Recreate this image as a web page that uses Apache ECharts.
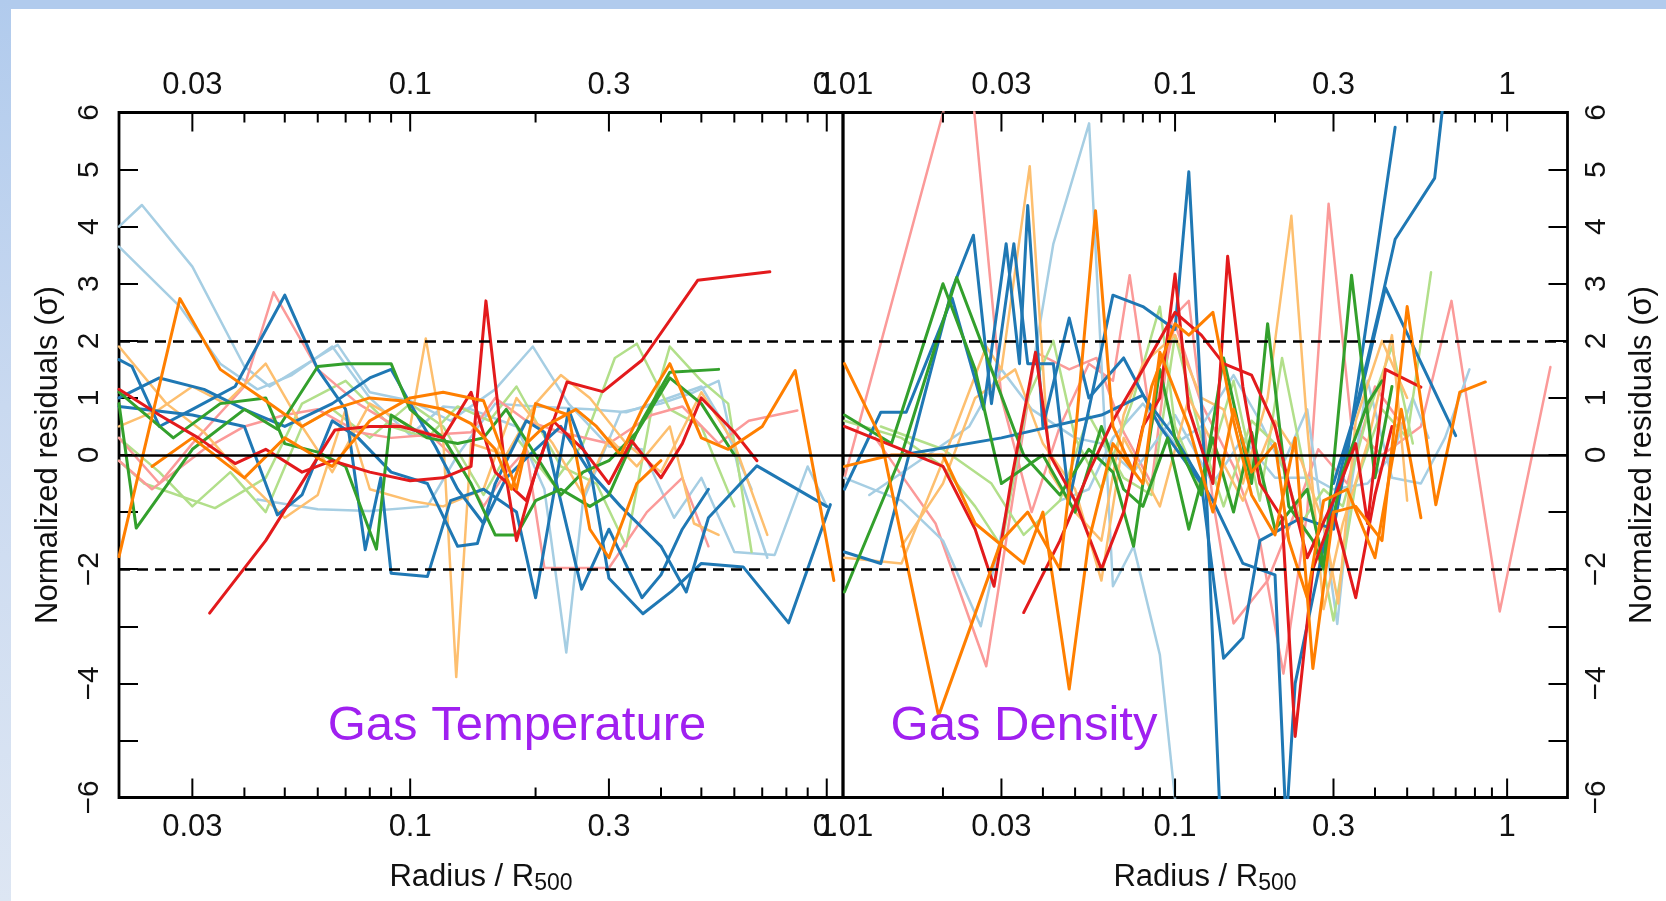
<!DOCTYPE html>
<html>
<head>
<meta charset="utf-8">
<title>Normalized residuals</title>
<script src="https://cdn.jsdelivr.net/npm/echarts@6/dist/echarts.min.js"></script>
<style>
  html, body { margin: 0; padding: 0; background: #ffffff; }
  #page { position: relative; width: 1666px; height: 901px; overflow: hidden; background: #ffffff; }
  #bandTop { position: absolute; left: 0; top: 0; width: 1666px; height: 9px; background: #b1cbed; }
  #bandLeft { position: absolute; left: 0; top: 0; width: 11px; height: 901px;
              background: linear-gradient(to bottom, #b1cbed 0%, #c9d9f0 45%, #dde6f3 100%); }
  #chart { position: absolute; left: 0; top: 0; width: 1666px; height: 901px; }
</style>
</head>
<body>
<div id="page">
  <div id="bandTop"></div>
  <div id="bandLeft"></div>
  <div id="chart"></div>
</div>
<script>
// Paired palette used for the cluster profiles
const palette = ['#a6cee3', '#1f78b4', '#b2df8a', '#33a02c', '#fb9a99', '#e31a1c', '#fdbf6f', '#ff7f00'];
const darkColours = ['#1f78b4', '#33a02c', '#e31a1c', '#ff7f00'];

// ---- Gas temperature residuals: [radius / R500, residual in sigma] ----
const tempLB1 = [[0.02,4.0],[0.0227,4.38],[0.03,3.3],[0.04,1.55],[0.046,1.2],[0.067,1.93],[0.08,1.1],[0.1,0.95],[0.125,0.6],[0.16,1.15],[0.197,1.9],[0.24,0.9],[0.3,0.15],[0.36,0.1],[0.43,-1.1],[0.5,-0.4],[0.6,-1.7],[0.75,-1.75],[0.9,-0.2],[1.0,-0.9]];
const tempLB2 = [[0.02,3.65],[0.028,2.6],[0.035,1.6],[0.043,1.15],[0.052,1.4],[0.065,1.9],[0.08,1.0],[0.1,0.35],[0.12,0.85],[0.14,0.8],[0.18,0.5],[0.21,-0.6],[0.237,-3.46],[0.26,-0.8],[0.32,0.75],[0.4,0.9],[0.48,1.1],[0.55,1.3],[0.62,-0.4],[0.72,-1.8]];
const tempLB3 = [[0.043,-0.78],[0.06,-0.95],[0.08,-0.98],[0.11,-0.9],[0.13,0.0],[0.16,0.9],[0.2,0.85],[0.27,0.8],[0.33,0.75],[0.4,0.95],[0.5,1.2],[0.56,0.6],[0.66,-0.6]];
const tempDB1 = [[0.02,1.67],[0.0215,1.55],[0.025,0.5],[0.03,0.8],[0.038,1.2],[0.05,2.8],[0.06,1.5],[0.07,0.8],[0.078,-1.66],[0.085,-0.4],[0.09,-2.07],[0.11,-2.13],[0.125,-0.8],[0.15,-0.6],[0.18,-1.0],[0.2,-2.5],[0.24,0.8],[0.27,-0.2],[0.3,-2.16],[0.362,-2.78],[0.424,-2.39],[0.5,-1.9],[0.63,-1.96],[0.81,-2.94],[1.02,-0.87]];
const tempDB2 = [[0.02,1.0],[0.025,1.35],[0.032,1.15],[0.04,0.8],[0.05,0.5],[0.065,0.9],[0.08,1.35],[0.09,1.5],[0.1,0.9],[0.115,0.15],[0.13,-0.6],[0.15,-1.2],[0.17,-0.4],[0.2,0.1],[0.23,0.5],[0.27,-0.3],[0.32,-0.9],[0.4,-1.6],[0.46,-2.4],[0.52,-1.1],[0.68,-0.19],[1.0,-0.9]];
const tempDB3 = [[0.02,0.85],[0.03,0.7],[0.04,0.5],[0.048,-1.05],[0.055,-0.7],[0.065,0.6],[0.075,0.3],[0.09,-0.3],[0.11,-0.5],[0.13,-1.6],[0.145,-1.55],[0.16,-0.5],[0.19,0.6],[0.21,0.4],[0.258,-2.35],[0.3,-1.3],[0.36,-2.5],[0.4,-2.1],[0.45,-1.3],[0.52,-0.6]];
const tempLG1 = [[0.02,0.3],[0.025,-0.3],[0.03,-0.9],[0.037,-0.3],[0.045,-1.0],[0.055,0.5],[0.065,0.8],[0.08,0.3],[0.1,0.9],[0.12,0.5],[0.15,-0.7],[0.18,0.3],[0.22,-0.5],[0.26,0.2],[0.31,1.7],[0.35,1.95],[0.42,0.8],[0.5,0.5],[0.6,-0.9]];
const tempLG2 = [[0.02,-0.1],[0.023,-0.5],[0.034,-0.93],[0.045,-0.4],[0.055,0.9],[0.07,1.3],[0.09,0.5],[0.11,0.3],[0.13,0.85],[0.155,0.6],[0.18,1.2],[0.2,0.6],[0.23,-0.2],[0.28,-0.5],[0.33,-1.6],[0.38,0.8],[0.42,1.9],[0.5,1.3],[0.58,0.9],[0.66,-1.7]];
const tempDG1 = [[0.02,0.9],[0.022,-1.28],[0.03,0.1],[0.04,0.8],[0.048,0.45],[0.06,1.55],[0.07,1.6],[0.09,1.6],[0.1,0.8],[0.12,0.3],[0.14,-0.5],[0.16,-1.4],[0.18,-1.4],[0.2,-0.8],[0.23,-0.6],[0.27,-0.9],[0.3,-0.7],[0.36,0.6],[0.42,1.45],[0.55,1.5]];
const tempDG2 = [[0.02,1.1],[0.027,0.3],[0.035,0.9],[0.045,1.0],[0.05,0.2],[0.06,0.05],[0.07,-0.2],[0.083,-1.65],[0.09,0.7],[0.11,0.3],[0.13,0.2],[0.15,0.3],[0.17,0.8],[0.2,0.0],[0.23,-0.7],[0.26,-0.3],[0.3,-0.1],[0.35,0.4],[0.42,1.35],[0.5,0.9],[0.6,0.0]];
const tempPK1 = [[0.02,0.3],[0.025,-0.5],[0.03,0.2],[0.04,1.2],[0.047,2.85],[0.06,1.5],[0.075,0.9],[0.09,0.55],[0.11,0.4],[0.13,-0.1],[0.15,-0.9],[0.17,-0.3],[0.19,0.1],[0.21,-1.98],[0.3,-1.98],[0.37,-1.0],[0.45,-0.4],[0.52,-1.6]];
const tempPK2 = [[0.02,-0.1],[0.024,-0.6],[0.032,0.1],[0.04,0.5],[0.05,0.7],[0.06,0.8],[0.075,0.4],[0.09,0.3],[0.11,0.35],[0.14,0.4],[0.16,1.0],[0.19,0.6],[0.23,0.4],[0.3,0.2],[0.38,0.7],[0.45,0.85],[0.55,0.2],[0.65,0.6],[0.85,0.78]];
const tempRD1 = [[0.02,1.15],[0.025,0.7],[0.031,0.3],[0.038,-0.15],[0.045,0.1],[0.055,-0.3],[0.065,-0.1],[0.08,-0.3],[0.1,-0.45],[0.12,-0.4],[0.14,-0.2],[0.152,2.7],[0.17,-0.4],[0.18,-1.5],[0.2,-0.3],[0.238,1.28],[0.29,1.11],[0.36,1.66],[0.49,3.06],[0.73,3.21]];
const tempRD2 = [[0.033,-2.77],[0.045,-1.5],[0.066,0.44],[0.08,0.5],[0.095,0.5],[0.12,0.3],[0.14,1.1],[0.16,-0.3],[0.19,-0.8],[0.22,0.6],[0.26,0.1],[0.3,-0.5],[0.34,0.25],[0.4,-0.4],[0.45,0.2],[0.5,1.0],[0.6,0.4],[0.68,-0.1]];
const tempLO1 = [[0.02,0.5],[0.025,0.8],[0.03,1.2],[0.036,0.9],[0.045,1.6],[0.055,0.5],[0.065,-0.3],[0.08,0.9],[0.1,0.5],[0.109,2.04],[0.12,0.3],[0.129,-3.89],[0.14,0.2],[0.17,0.0],[0.2,0.9],[0.23,1.4],[0.27,1.0],[0.33,0.2],[0.4,-0.3],[0.5,1.1],[0.6,0.2],[0.72,-1.4]];
const tempLO2 = [[0.02,1.9],[0.026,0.9],[0.032,0.4],[0.04,-0.4],[0.05,-1.1],[0.06,-0.7],[0.07,0.8],[0.08,-0.6],[0.1,-0.8],[0.12,-0.9],[0.15,-0.6],[0.18,1.0],[0.22,0.2],[0.26,-0.7],[0.3,0.3],[0.35,-0.2],[0.42,0.5],[0.48,-1.2],[0.55,-1.4]];
const tempOR1 = [[0.02,-1.78],[0.028,2.74],[0.035,1.5],[0.045,0.95],[0.055,0.5],[0.065,0.8],[0.08,1.0],[0.095,0.95],[0.12,0.8],[0.14,0.55],[0.16,0.1],[0.175,-0.6],[0.19,0.2],[0.21,0.5],[0.25,0.8],[0.28,0.5],[0.32,0.0],[0.36,0.8],[0.42,1.6],[0.5,0.3],[0.58,0.1],[0.7,0.5],[0.84,1.48],[1.04,-2.2]];
const tempOR2 = [[0.024,-0.2],[0.03,0.3],[0.04,-0.4],[0.05,0.3],[0.065,-0.2],[0.08,0.6],[0.1,1.0],[0.12,1.1],[0.15,0.95],[0.18,-0.6],[0.2,0.9],[0.24,0.7],[0.27,-1.3],[0.3,-1.8],[0.35,-0.5],[0.4,-0.1]];

// ---- Gas density residuals ----
const densPK1 = [[0.0101,-0.4],[0.0235,7.5],[0.03,1.0],[0.037,-1.0],[0.045,0.5],[0.055,1.6],[0.065,1.3],[0.073,3.15],[0.085,0.5],[0.1,2.3],[0.12,0.9],[0.15,-0.2],[0.18,-1.5],[0.212,-3.83],[0.25,-1.0],[0.29,4.4],[0.34,0.5],[0.42,0.0],[0.55,0.5],[0.68,2.7],[0.95,-2.74],[1.35,1.54]];
const densPK2 = [[0.0125,0.3],[0.019,-1.2],[0.027,-3.7],[0.033,-0.5],[0.038,1.8],[0.048,1.5],[0.058,1.7],[0.07,0.4],[0.085,-0.5],[0.098,2.4],[0.11,2.7],[0.13,-0.8],[0.15,-2.95],[0.19,-2.2],[0.23,-1.0],[0.27,0.1],[0.33,-0.5],[0.4,1.2],[0.5,0.4]];
const densLB1 = [[0.0101,-0.4],[0.015,-0.8],[0.02,-1.5],[0.026,-3.0],[0.033,-0.3],[0.043,3.7],[0.0551,5.81],[0.065,-2.3],[0.075,-1.6],[0.09,-3.5],[0.102,-6.5]];
const densLB2 = [[0.045,-0.8],[0.055,-0.6],[0.065,0.3],[0.08,0.9],[0.1,0.2],[0.12,0.5],[0.15,1.4],[0.18,0.6],[0.21,-0.2],[0.25,0.8],[0.308,-2.96],[0.34,-0.5],[0.38,1.3],[0.45,-0.4],[0.55,-0.5],[0.65,0.3],[0.77,1.5]];
const densLB3 = [[0.012,-0.7],[0.017,-0.1],[0.024,0.5],[0.03,1.5],[0.037,0.8],[0.05,0.3],[0.06,0.2],[0.075,-0.3],[0.1,0.7],[0.13,-0.5],[0.16,0.3],[0.2,-0.4],[0.26,-0.4],[0.3,-0.6],[0.38,-0.5],[0.45,0.0],[0.52,1.0],[0.58,0.3]];
const densDB1 = [[0.0101,-1.7],[0.013,-1.9],[0.015,-0.5],[0.0213,2.9],[0.0247,3.85],[0.028,0.9],[0.0327,3.7],[0.036,1.6],[0.043,1.6],[0.048,-0.8],[0.055,0.8],[0.065,2.8],[0.08,2.6],[0.1,2.2],[0.11,4.96],[0.125,-1.0],[0.137,-6.5]];
const densDB2 = [[0.0101,-0.6],[0.013,0.75],[0.0155,0.75],[0.0213,2.75],[0.0265,0.8],[0.031,3.7],[0.034,1.6],[0.036,4.37],[0.04,0.5],[0.048,2.4],[0.055,1.0],[0.07,1.7],[0.09,0.5],[0.12,-0.5],[0.14,-3.56],[0.16,-3.2],[0.18,-1.5],[0.24,-1.1],[0.3,-1.3],[0.33,0.0],[0.46,5.74]];
const densDB3 = [[0.015,0.0],[0.03,0.3],[0.06,0.7],[0.08,1.05],[0.1,0.3],[0.13,-0.8],[0.16,-1.9],[0.2,-2.1],[0.216,-6.5]];
const densDB4 = [[0.216,-6.5],[0.23,-4.0],[0.26,-2.5],[0.3,-0.8],[0.35,0.8],[0.42,2.75],[0.46,3.78],[0.605,4.85],[0.66,6.8]];
const densDB5 = [[0.3,-0.5],[0.36,1.0],[0.43,2.93],[0.70,0.34]];
const densLG1 = [[0.0101,0.6],[0.015,0.3],[0.02,-0.2],[0.025,-0.9],[0.03,-1.6],[0.036,1.0],[0.043,2.0],[0.05,0.3],[0.06,-0.6],[0.075,1.0],[0.09,2.6],[0.1,0.5],[0.12,-0.6],[0.15,1.3],[0.18,-0.8],[0.21,1.7],[0.25,-0.5],[0.3,-2.9],[0.35,-0.5],[0.42,0.8],[0.5,0.3],[0.59,3.2]];
const densLG2 = [[0.013,0.5],[0.02,0.1],[0.028,-0.5],[0.035,-1.4],[0.045,-0.8],[0.055,0.7],[0.07,-0.4],[0.085,-0.7],[0.1,2.1],[0.12,0.3],[0.14,-0.9],[0.17,0.6],[0.2,0.2],[0.24,-1.2],[0.28,-0.6],[0.32,-0.9],[0.38,0.7],[0.45,1.9],[0.52,0.2]];
const densDG1 = [[0.0101,-2.4],[0.015,0.0],[0.022,3.11],[0.028,1.5],[0.035,0.0],[0.045,-0.7],[0.055,0.1],[0.065,-0.3],[0.075,-1.6],[0.09,1.5],[0.1,0.3],[0.12,-0.7],[0.14,1.7],[0.17,-0.5],[0.19,2.3],[0.22,-0.9],[0.26,-1.5],[0.28,-2.0],[0.34,3.15],[0.4,-0.4],[0.45,1.2]];
const densDG2 = [[0.0101,0.7],[0.014,0.2],[0.02,3.0],[0.025,1.5],[0.03,-0.5],[0.04,0.0],[0.05,-1.0],[0.06,0.5],[0.07,-0.6],[0.08,-0.9],[0.095,0.3],[0.11,-1.3],[0.13,0.3],[0.15,-1.0],[0.17,0.4],[0.2,-1.3],[0.25,-0.6],[0.28,-1.9],[0.32,-0.3],[0.38,0.9],[0.42,1.3]];
const densRD1 = [[0.0101,0.5],[0.015,0.1],[0.02,-0.2],[0.025,-1.3],[0.0285,-2.3],[0.032,-0.5],[0.038,1.8],[0.042,0.0],[0.05,-0.8],[0.06,-2.0],[0.07,-1.0],[0.08,0.5],[0.09,1.0],[0.1,3.17],[0.11,0.8],[0.13,-0.5],[0.144,3.48],[0.16,1.2],[0.18,-0.5],[0.21,-1.1],[0.23,-4.93],[0.26,-2.0],[0.3,-1.0],[0.35,-2.5],[0.4,-0.7],[0.45,0.5]];
const densRD2 = [[0.035,-2.76],[0.045,-1.5],[0.055,-0.3],[0.065,0.6],[0.08,1.5],[0.1,2.5],[0.12,2.1],[0.14,1.6],[0.17,1.4],[0.2,0.5],[0.22,-0.5],[0.25,-1.8],[0.3,-0.8],[0.35,0.2],[0.38,-1.2],[0.43,1.5],[0.55,1.19]];
const densLO1 = [[0.0101,-1.8],[0.015,-1.9],[0.02,-0.1],[0.027,1.9],[0.03,1.5],[0.0365,5.06],[0.042,-0.3],[0.05,-1.0],[0.06,-1.5],[0.07,0.7],[0.08,1.6],[0.1,2.1],[0.12,1.0],[0.14,0.8],[0.16,-0.5],[0.19,1.0],[0.224,4.19],[0.25,0.5],[0.28,-2.7],[0.32,-1.2],[0.38,0.2],[0.45,2.1],[0.5,-0.8]];
const densLO2 = [[0.015,-1.6],[0.02,-0.5],[0.025,1.0],[0.033,1.5],[0.04,0.2],[0.05,-0.6],[0.06,-2.2],[0.07,0.3],[0.09,-0.9],[0.11,1.0],[0.13,0.2],[0.16,-0.8],[0.2,0.6],[0.24,-0.1],[0.28,-1.2],[0.31,-2.6],[0.35,0.6],[0.42,2.0],[0.5,1.0]];
const densOR1 = [[0.0101,1.6],[0.013,0.3],[0.0194,-4.57],[0.03,-1.5],[0.036,-1.0],[0.045,-2.0],[0.05,0.3],[0.0576,4.28],[0.065,0.5],[0.075,-0.3],[0.085,1.2],[0.1,2.3],[0.11,2.1],[0.13,2.5],[0.15,0.6],[0.17,-0.7],[0.2,-1.4],[0.23,0.3],[0.26,-3.74],[0.3,-1.0],[0.35,-0.9],[0.42,-1.5],[0.5,2.6],[0.61,-0.87],[0.72,1.1],[0.86,1.28]];
const densOR2 = [[0.0101,-0.2],[0.014,0.0],[0.02,0.0],[0.025,-1.2],[0.035,-1.9],[0.04,-1.0],[0.048,-4.1],[0.055,-1.5],[0.065,0.2],[0.08,-0.5],[0.09,1.8],[0.11,0.5],[0.13,-1.0],[0.15,0.8],[0.17,-0.3],[0.2,0.2],[0.22,-1.5],[0.25,-2.5],[0.28,-0.8],[0.33,-0.6],[0.4,-1.8],[0.48,0.8],[0.55,-1.1]];

// colour index into the palette for each profile
const tempProfiles = [
  [tempLB1, 0], [tempLB2, 0], [tempLB3, 0], [tempLG1, 2], [tempLG2, 2], [tempPK1, 4], [tempPK2, 4],
  [tempLO1, 6], [tempLO2, 6], [tempDB1, 1], [tempDB2, 1], [tempDB3, 1], [tempDG1, 3], [tempDG2, 3],
  [tempRD1, 5], [tempRD2, 5], [tempOR1, 7], [tempOR2, 7]
];
const densProfiles = [
  [densPK1, 4], [densPK2, 4], [densLB1, 0], [densLB2, 0], [densLB3, 0], [densLG1, 2], [densLG2, 2],
  [densLO1, 6], [densLO2, 6], [densDB1, 1], [densDB2, 1], [densDB3, 1], [densDB4, 1], [densDB5, 1],
  [densDG1, 3], [densDG2, 3], [densRD1, 5], [densRD2, 5], [densOR1, 7], [densOR2, 7]
];

// Axis ranges and tick marks
const tempRange = [0.02, 1.094];
const densRange = [0.01, 1.52];
const yRange = [-6, 6];
const tempTicks = [0.03, 0.04, 0.05, 0.06, 0.07, 0.08, 0.09, 0.1, 0.2, 0.3, 0.4, 0.5, 0.6, 0.7, 0.8, 0.9, 1];
const densTicks = [0.01, 0.02, 0.03, 0.04, 0.05, 0.06, 0.07, 0.08, 0.09, 0.1, 0.2, 0.3, 0.4, 0.5, 0.6, 0.7, 0.8, 0.9, 1];
const majorTickLabels = { 0.01: '0.01', 0.03: '0.03', 0.1: '0.1', 0.3: '0.3', 1: '1' };
const refLevels = [0, 2, -2];

const FONT = '"Liberation Sans", Arial, Helvetica, sans-serif';
const chart = echarts.init(document.getElementById('chart'), null, { renderer: 'canvas' });

function tickSeries(ticks, gridIdx) {
  return {
    type: 'custom',
    xAxisIndex: gridIdx, yAxisIndex: gridIdx,
    silent: true, clip: false, z: 10,
    data: ticks.map(t => [t, 0]),
    encode: { x: 0, y: 1 },
    renderItem(params, api) {
      const r = api.value(0);
      const label = majorTickLabels[r];
      const top = api.coord([r, yRange[1]]);
      const bot = api.coord([r, yRange[0]]);
      const len = label ? 19 : 10;
      const kids = [
        { type: 'line', shape: { x1: top[0], y1: top[1], x2: top[0], y2: top[1] + len }, style: { stroke: '#000', lineWidth: 2 } },
        { type: 'line', shape: { x1: bot[0], y1: bot[1], x2: bot[0], y2: bot[1] - len }, style: { stroke: '#000', lineWidth: 2 } }
      ];
      if (label) {
        const ts = { text: label, fill: '#111', font: '31px ' + FONT, align: 'center', verticalAlign: 'middle' };
        kids.push({ type: 'text', x: top[0], y: top[1] - 27, style: Object.assign({}, ts) });
        kids.push({ type: 'text', x: bot[0], y: bot[1] + 30, style: Object.assign({}, ts) });
      }
      return { type: 'group', children: kids };
    }
  };
}

function refSeries(gridIdx) {
  return {
    type: 'line', xAxisIndex: gridIdx, yAxisIndex: gridIdx, data: [], silent: true, z: 8,
    markLine: {
      silent: true, symbol: ['none', 'none'], animation: false,
      label: { show: false },
      data: refLevels.map(v => ({
        yAxis: v,
        lineStyle: { color: '#000', width: v === 0 ? 2.5 : 2.6, type: v === 0 ? 'solid' : [11, 7] }
      }))
    }
  };
}

function profileSeries(list, gridIdx) {
  return list.map(([pts, ci]) => {
    const col = palette[ci];
    const dark = darkColours.includes(col);
    return {
      type: 'line', xAxisIndex: gridIdx, yAxisIndex: gridIdx,
      data: pts, symbol: 'none', silent: true, z: dark ? 3 : 2,
      lineStyle: { color: col, width: dark ? 3.0 : 2.5, join: 'round', cap: 'round' },
      clip: true
    };
  });
}

const yLabel = v => (v === -1 || v === -3 || v === -5) ? '' : (v < 0 ? '\u2212' + Math.abs(v) : String(v));

function yAxisDef(gridIdx, pos) {
  return {
    type: 'value', gridIndex: gridIdx, position: pos,
    min: yRange[0], max: yRange[1], interval: 1,
    axisLine: { show: false },
    axisTick: { show: true, inside: true, length: 19, lineStyle: { color: '#000', width: 2 } },
    splitLine: { show: false },
    axisLabel: { show: true, rotate: 90, margin: 14, formatter: yLabel,
                 fontFamily: FONT, fontSize: 30, color: '#111' }
  };
}

function xAxisDef(gridIdx, range) {
  return {
    type: 'log', logBase: 10, gridIndex: gridIdx, min: range[0], max: range[1],
    axisLine: { show: false }, axisTick: { show: false }, axisLabel: { show: false },
    splitLine: { show: false }, minorTick: { show: false }
  };
}

const plotTop = 112.5, plotBottom = 901 - 797.5;

const option = {
  animation: false,
  backgroundColor: 'transparent',
  grid: [
    { left: 119, width: 724, top: plotTop, bottom: plotBottom, show: true, borderColor: '#000', borderWidth: 2.8, backgroundColor: 'transparent' },
    { left: 843, width: 724.5, top: plotTop, bottom: plotBottom, show: true, borderColor: '#000', borderWidth: 2.8, backgroundColor: 'transparent' }
  ],
  xAxis: [xAxisDef(0, tempRange), xAxisDef(1, densRange)],
  yAxis: [yAxisDef(0, 'left'), yAxisDef(1, 'right')],
  series: [
    ...profileSeries(tempProfiles, 0),
    ...profileSeries(densProfiles, 1),
    refSeries(0), refSeries(1),
    tickSeries(tempTicks, 0), tickSeries(densTicks, 1)
  ],
  graphic: [
    { type: 'text', x: 517, y: 726, z: 20,
      style: { text: 'Gas Temperature', fill: '#a020f0', font: '49px ' + FONT, align: 'center', verticalAlign: 'middle' } },
    { type: 'text', x: 1024, y: 726, z: 20,
      style: { text: 'Gas Density', fill: '#a020f0', font: '49px ' + FONT, align: 'center', verticalAlign: 'middle' } },
    { type: 'text', x: 48, y: 455, rotation: Math.PI / 2, z: 20,
      style: { text: 'Normalized residuals (\u03c3)', fill: '#111', font: '31px ' + FONT, align: 'center', verticalAlign: 'middle' } },
    { type: 'text', x: 1642, y: 455, rotation: Math.PI / 2, z: 20,
      style: { text: 'Normalized residuals (\u03c3)', fill: '#111', font: '31px ' + FONT, align: 'center', verticalAlign: 'middle' } },
    { type: 'text', x: 481, y: 877, z: 20,
      style: { text: '{m|Radius / R}{s|500}', fill: '#111', align: 'center', verticalAlign: 'middle',
               rich: { m: { font: '31px ' + FONT, fill: '#111' },
                       s: { font: '23px ' + FONT, fill: '#111', padding: [14, 0, 0, 0] } } } },
    { type: 'text', x: 1205, y: 877, z: 20,
      style: { text: '{m|Radius / R}{s|500}', fill: '#111', align: 'center', verticalAlign: 'middle',
               rich: { m: { font: '31px ' + FONT, fill: '#111' },
                       s: { font: '23px ' + FONT, fill: '#111', padding: [14, 0, 0, 0] } } } }
  ]
};

chart.setOption(option);
</script>
</body>
</html>
